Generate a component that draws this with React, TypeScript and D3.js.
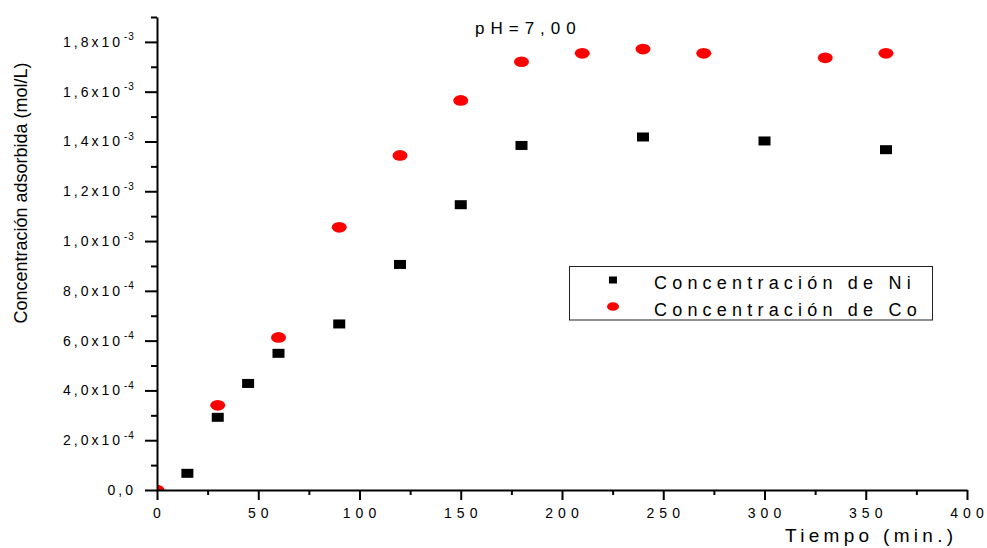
import React, { useEffect, useRef } from 'react'
import * as d3 from 'd3'

// tiempo (min) y concentración adsorbida (mol/L)
const niTime = [15, 30, 45, 60, 90, 120, 150, 180, 240, 300, 360]
const niConc = [0.067e-3, 0.292e-3, 0.428e-3, 0.549e-3, 0.667e-3, 0.906e-3, 1.146e-3, 1.384e-3, 1.418e-3, 1.402e-3, 1.367e-3]

const coTime = [0, 30, 60, 90, 120, 150, 180, 210, 240, 270, 330, 360]
const coConc = [0, 0.340e-3, 0.613e-3, 1.055e-3, 1.344e-3, 1.565e-3, 1.720e-3, 1.754e-3, 1.771e-3, 1.754e-3, 1.736e-3, 1.754e-3]

const xMajor = [0, 50, 100, 150, 200, 250, 300, 350, 400]
const xMinor = [25, 75, 125, 175, 225, 275, 325, 375]
const yMajor = [0, 0.2e-3, 0.4e-3, 0.6e-3, 0.8e-3, 1.0e-3, 1.2e-3, 1.4e-3, 1.6e-3, 1.8e-3]
const yMinor = [0.1e-3, 0.3e-3, 0.5e-3, 0.7e-3, 0.9e-3, 1.1e-3, 1.3e-3, 1.5e-3, 1.7e-3, 1.9e-3]

const legendLabels = ['Concentración de Ni', 'Concentración de Co']

const FONT = '"Liberation Sans", Arial, sans-serif'

function App () {
  const ref = useRef<SVGSVGElement>(null)

  useEffect(() => {
    const svg = d3.select(ref.current)
    svg.selectAll('*').remove()

    const width = 987
    const height = 548
    const margin = { top: 17, right: 20, bottom: 58, left: 157 }

    const x = d3.scaleLinear().domain([0, 400]).range([margin.left, width - margin.right])
    const y = d3.scaleLinear().domain([0, 1.9e-3]).range([height - margin.bottom, margin.top])

    svg.append('defs').append('clipPath').attr('id', 'plot-clip')
      .append('rect')
      .attr('x', x(0)).attr('y', y(1.9e-3))
      .attr('width', x(400) - x(0)).attr('height', y(0) - y(1.9e-3))

    // points
    const pts = svg.append('g').attr('clip-path', 'url(#plot-clip)')
    pts.selectAll('rect.ni')
      .data(niTime)
      .enter()
      .append('rect')
      .attr('class', 'ni')
      .attr('x', d => x(d) - 6)
      .attr('y', (d, i) => y(niConc[i]) - 4.5)
      .attr('width', 12)
      .attr('height', 9)
      .attr('fill', '#000')
    pts.selectAll('ellipse.co')
      .data(coTime)
      .enter()
      .append('ellipse')
      .attr('class', 'co')
      .attr('cx', d => x(d))
      .attr('cy', (d, i) => y(coConc[i]))
      .attr('rx', 7.5)
      .attr('ry', 5.3)
      .attr('fill', '#ff0000')

    // X axis
    const xAxis = svg.append('g')
      .attr('transform', 'translate(0,' + y(0) + ')')
      .call(d3.axisBottom(x).tickValues(xMajor).tickSize(10).tickSizeOuter(0).tickFormat(() => ''))
    svg.append('g')
      .attr('transform', 'translate(0,' + y(0) + ')')
      .call(d3.axisBottom(x).tickValues(xMinor).tickSize(5).tickSizeOuter(0).tickFormat(() => ''))
      .select('.domain').remove()

    svg.append('g')
      .selectAll('text')
      .data(xMajor)
      .enter()
      .append('text')
      .attr('x', d => x(d) + 2.5)
      .attr('y', y(0) + 28)
      .attr('text-anchor', 'middle')
      .style('font-family', FONT)
      .style('font-size', '14px')
      .style('letter-spacing', '5px')
      .text(d => d)

    // Y axis
    const yAxis = svg.append('g')
      .attr('transform', 'translate(' + x(0) + ',0)')
      .call(d3.axisLeft(y).tickValues(yMajor).tickSize(12).tickSizeOuter(0).tickFormat(() => ''))
    svg.append('g')
      .attr('transform', 'translate(' + x(0) + ',0)')
      .call(d3.axisLeft(y).tickValues(yMinor).tickSize(6).tickSizeOuter(0).tickFormat(() => ''))
      .select('.domain').remove()

    const yLab = svg.append('g')
    yMajor.forEach(v => {
      if (v === 0) {
        yLab.append('text')
          .attr('x', 136).attr('y', y(v) + 5)
          .attr('text-anchor', 'end')
          .style('font-family', FONT).style('font-size', '14px').style('letter-spacing', '3px')
          .text('0,0')
        return
      }
      const exp = v >= 1e-3 - 1e-9 ? -3 : -4
      const mant = (v / Math.pow(10, exp)).toFixed(1).replace('.', ',')
      yLab.append('text')
        .attr('x', 123).attr('y', y(v) + 5)
        .attr('text-anchor', 'end')
        .style('font-family', FONT).style('font-size', '14px').style('letter-spacing', '3px')
        .text(mant + 'x10')
      yLab.append('text')
        .attr('x', 124).attr('y', y(v) - 1.5)
        .style('font-family', FONT).style('font-size', '10px').style('letter-spacing', '1px')
        .text(String(exp))
    })

    svg.selectAll('.domain, .tick line')
      .attr('stroke', '#000')
      .attr('stroke-width', 2)
    xAxis.raise()
    yAxis.raise()

    // titles
    svg.append('text')
      .attr('x', 785).attr('y', 542)
      .style('font-family', FONT).style('font-size', '19px').style('letter-spacing', '4.3px')
      .text('Tiempo (min.)')

    svg.append('text')
      .attr('transform', 'translate(27,193) rotate(-90)')
      .attr('text-anchor', 'middle')
      .style('font-family', FONT).style('font-size', '18px')
      .text('Concentración adsorbida (mol/L)')

    svg.append('text')
      .attr('x', 475).attr('y', 34)
      .style('font-family', FONT).style('font-size', '17px').style('letter-spacing', '6px')
      .text('pH=7,00')

    // legend
    const lg = svg.append('g')
    lg.append('rect')
      .attr('x', 569.5).attr('y', 266.5)
      .attr('width', 363).attr('height', 53.5)
      .attr('fill', '#fff').attr('stroke', '#222').attr('stroke-width', 1)
    lg.append('rect')
      .attr('x', 609).attr('y', 276.5).attr('width', 8).attr('height', 7)
      .attr('fill', '#000')
    lg.append('ellipse')
      .attr('cx', 613).attr('cy', 306.5).attr('rx', 6).attr('ry', 4.3)
      .attr('fill', '#ff0000')
    lg.selectAll('text.leg')
      .data(legendLabels)
      .enter()
      .append('text')
      .attr('class', 'leg')
      .attr('x', 654)
      .attr('y', (d, i) => 289 + i * 26.5)
      .style('font-family', FONT).style('font-size', '18px').style('letter-spacing', '5.2px')
      .text(d => d)
  }, [])

  return (
    <svg
      ref={ref}
      width={987}
      height={548}
      style={{ position: 'absolute', left: 0, top: 0, background: '#fff' }}
    />
  )
}

export default App
